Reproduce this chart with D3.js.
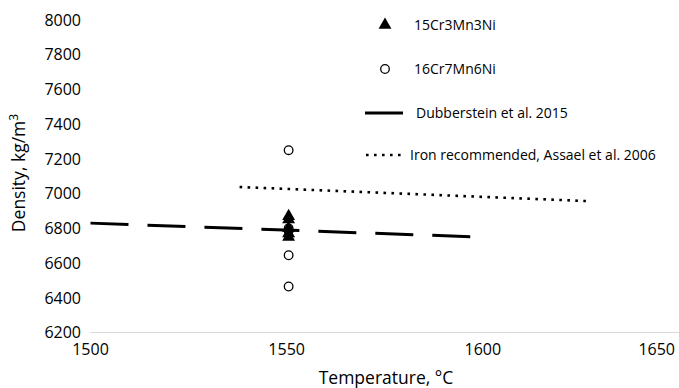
<!DOCTYPE html>
<html><head><meta charset="utf-8">
<script src="https://cdn.jsdelivr.net/npm/d3@7"></script>
<style>body{margin:0;background:#fff}svg{display:block}text{font-family:"Open Sans",sans-serif;fill:#000}</style>
</head><body><svg id="c" width="679" height="388"></svg>
<script>
const xTicks = [1500, 1550, 1600, 1650];
const yTicks = [6200, 6400, 6600, 6800, 7000, 7200, 7400, 7600, 7800, 8000];
const tri15Cr = [[1550.5, 6870], [1550.5, 6850], [1550.5, 6800], [1550.5, 6770], [1550.5, 6750]];
const circ16Cr = [[1550.5, 7250], [1550.5, 6800], [1550.5, 6785], [1550.5, 6645], [1550.5, 6465]];
const dubberstein = [[1500, 6830], [1599, 6750]];
const assael = [[1538, 7038], [1626.5, 6957]];
const legendLabels = ["15Cr3Mn3Ni", "16Cr7Mn6Ni", "Dubberstein et al. 2015", "Iron recommended, Assael et al. 2006"];

const svg = d3.select("#c");
const x = d3.scaleLinear().domain([1500, 1650]).range([90.5, 679]);
const y = d3.scaleLinear().domain([6200, 8000]).range([332.5, 20]);

svg.append("line").attr("x1", x(1500)).attr("x2", x(1650)).attr("y1", y(6200)).attr("y2", y(6200))
  .attr("stroke", "#d9d9d9").attr("stroke-width", 1.2);

svg.append("g").selectAll("text").data(xTicks).join("text")
  .attr("x", (d, i) => i === xTicks.length - 1 ? 675 : x(d))
  .attr("y", 355)
  .attr("text-anchor", (d, i) => i === xTicks.length - 1 ? "end" : "middle")
  .attr("font-size", 16).text(d => d);

svg.append("g").selectAll("text").data(yTicks).join("text")
  .attr("x", 81).attr("y", d => y(d)).attr("dy", "0.36em")
  .attr("text-anchor", "end").attr("font-size", 16).text(d => d);

svg.append("text").attr("x", 386).attr("y", 384).attr("text-anchor", "middle")
  .attr("font-size", 17.5).text("Temperature, °C");
const yl = svg.append("text").attr("transform", "translate(25,173) rotate(-90)")
  .attr("text-anchor", "middle").attr("font-size", 17.5);
yl.append("tspan").text("Density, kg/m");
yl.append("tspan").attr("dy", -7).attr("font-size", 12).text("3");

const triPath = d3.symbol().type(d3.symbolTriangle).size(72);
svg.append("g").selectAll("path").data(tri15Cr).join("path")
  .attr("d", triPath).attr("transform", d => `translate(${x(d[0])},${y(d[1])})`).attr("fill", "#000");
svg.append("g").selectAll("circle").data(circ16Cr).join("circle")
  .attr("cx", d => x(d[0])).attr("cy", d => y(d[1])).attr("r", 4.3)
  .attr("fill", "none").attr("stroke", "#000").attr("stroke-width", 1.3);

const line = d3.line().x(d => x(d[0])).y(d => y(d[1]));
svg.append("path").attr("d", line(dubberstein)).attr("fill", "none").attr("stroke", "#000")
  .attr("stroke-width", 3).attr("stroke-dasharray", "38 19");
svg.append("path").attr("d", line(assael)).attr("fill", "none").attr("stroke", "#000")
  .attr("stroke-width", 2.6).attr("stroke-dasharray", "2.6 5.4");

const lg = svg.append("g");
const lgY = [25, 69, 113, 155];
lg.append("path").attr("d", triPath).attr("transform", `translate(385,${lgY[0]})`).attr("fill", "#000");
lg.append("circle").attr("cx", 385).attr("cy", lgY[1]).attr("r", 4.3).attr("fill", "none")
  .attr("stroke", "#000").attr("stroke-width", 1.3);
lg.append("line").attr("x1", 365).attr("x2", 403).attr("y1", lgY[2]).attr("y2", lgY[2])
  .attr("stroke", "#000").attr("stroke-width", 3);
lg.append("line").attr("x1", 366).attr("x2", 404).attr("y1", lgY[3]).attr("y2", lgY[3])
  .attr("stroke", "#000").attr("stroke-width", 2.6).attr("stroke-dasharray", "2.6 5.4");
const lgX = [414, 414, 416, 410];
lg.selectAll("text.l").data(legendLabels).join("text").attr("class", "l")
  .attr("x", (d, i) => lgX[i]).attr("y", (d, i) => lgY[i]).attr("dy", "0.36em")
  .attr("font-size", 14).text(d => d);
</script></body></html>
